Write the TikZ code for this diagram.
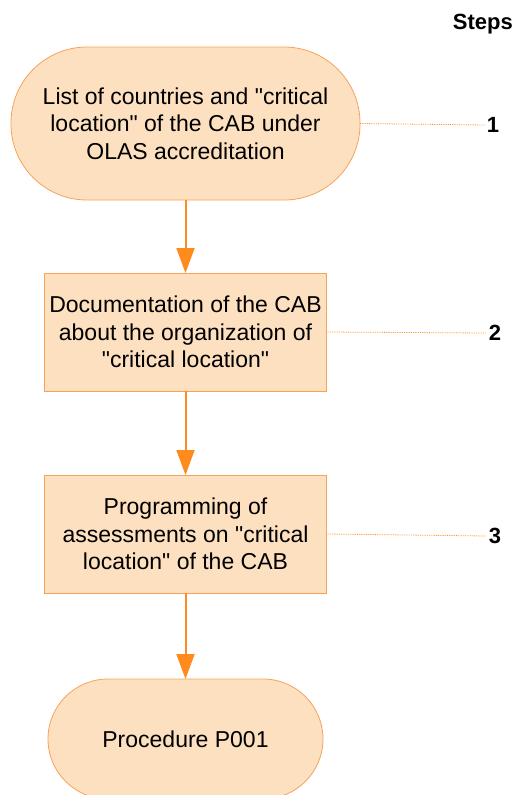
\documentclass[tikz,border=0pt]{standalone}
\usepackage{fontspec}
\setmainfont{Liberation Sans}
\usetikzlibrary{positioning,arrows.meta}
\definecolor{boxfill}{HTML}{FDE0C0}
\definecolor{boxline}{HTML}{F7A25A}
\definecolor{flowline}{HTML}{FF8A1E}
\newcommand{\q}{\textquotedbl}

\begin{document}
\begin{tikzpicture}[x=1pt,y=-1pt,font=\fontsize{23}{27.5}\selectfont,
  term node/.style={draw=boxline,fill=boxfill,line width=0.8pt,align=center,outer sep=0pt,inner sep=0pt},
  step node/.style={draw=boxline,fill=boxfill,line width=0.8pt,align=center,outer sep=0pt,inner sep=0pt,minimum width=282pt,minimum height=118pt},
  num node/.style={font=\bfseries\fontsize{22}{24}\selectfont,inner sep=2pt},
  flow/.style={-{Triangle[length=25pt,width=18pt]},color=flowline,line width=2pt},
  link/.style={draw=flowline,densely dotted,line width=0.8pt}]
                \clip (0,0) rectangle (516,795);
                \node[term node,minimum width=349pt,minimum height=153pt,rounded corners=76pt] (list) at (185.5,123.5) {List of countries and \q critical\\location\q{} of the CAB under\\OLAS accreditation};
                \node[step node] (doc) [below=73pt of list] {Documentation of the CAB\\about the organization of\\\q critical location\q};
                \node[step node] (prog) [below=84pt of doc] {Programming of\\assessments on \q critical\\location\q{} of the CAB};
                \node[term node,minimum width=275pt,minimum height=120pt,rounded corners=60pt] (proc) [below=86pt of prog] {Procedure P001};

                \node[num node,anchor=east] (steps) at (515,24) {Steps};
                \node[num node] (n1) at (493,125) {1};
                \node[num node] (n2) at (495,333) {2};
                \node[num node] (n3) at (495,536) {3};

                \draw[flow] (list.south) -- (doc.north);
                \draw[flow] (doc.south) -- (prog.north);
                \draw[flow] (prog.south) -- (proc.north);
                \draw[link] (list.east) -- (n1.west);
                \draw[link] (doc.east) -- (n2.west);
                \draw[link] (prog.east) -- (n3.west);
            \end{tikzpicture}
\end{document}
